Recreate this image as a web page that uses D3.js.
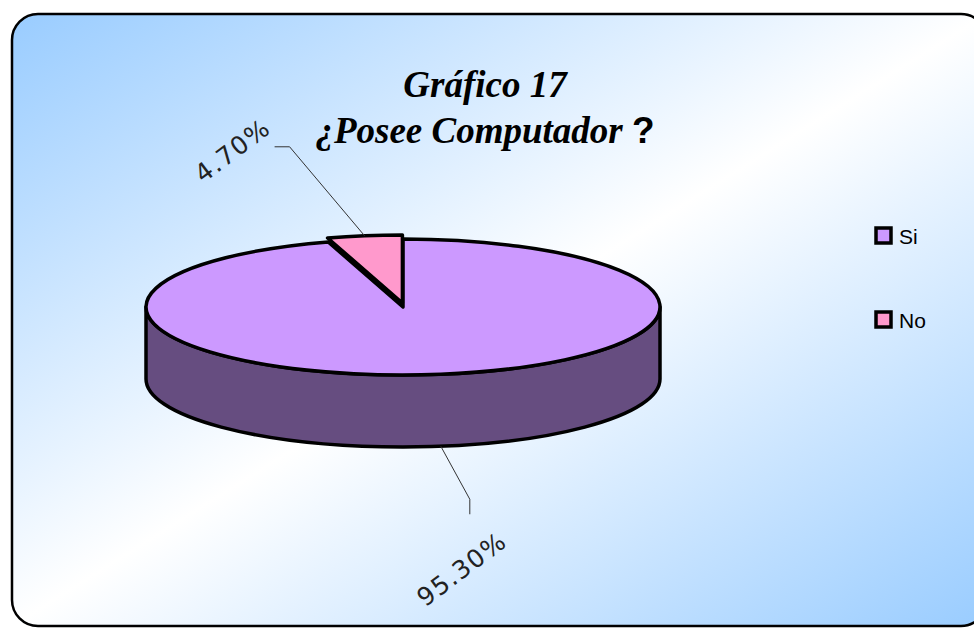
<!DOCTYPE html>
<html>
<head>
    <meta charset="utf-8">
    <script src="https://cdn.jsdelivr.net/npm/d3@7"></script>
    <style>
    body { margin: 0; background: #fff; }
    .slice { stroke: #000; stroke-width: 3.5px; stroke-linejoin: round; }
    .leader { stroke: #333; stroke-width: 1px; fill: none; }
    .pct { font-family: "DejaVu Sans", sans-serif; font-size: 25px; fill: #222; letter-spacing: 1.5px; }
    .legend text { font-family: "Liberation Sans", Arial, sans-serif; font-size: 21px; fill: #000; }
    </style>
</head>
<body>
<script>
// chart data
var categories = ["Si", "No"];
var values = [95.3, 4.7];
var labels = ["95.30%", "4.70%"];
var topColors = ["#cc99ff", "#ff99cc"];
var sideColors = ["#664d80", "#80506a"];

var width = 974, height = 628;
var cx = 403, cy = 307, rx = 257, ry = 68, depth = 72;

var svg = d3.select("body").append("svg")
    .attr("width", width)
    .attr("height", height);

// background gradient, blue in two corners and white across the middle
var grad = svg.append("defs").append("linearGradient")
    .attr("id", "bg")
    .attr("x1", 0).attr("y1", 0).attr("x2", 1).attr("y2", 1);
grad.append("stop").attr("offset", "0%").attr("stop-color", "#99ccff");
grad.append("stop").attr("offset", "50%").attr("stop-color", "#ffffff");
grad.append("stop").attr("offset", "100%").attr("stop-color", "#99ccff");

svg.append("rect")
    .attr("x", 12).attr("y", 14)
    .attr("width", 975).attr("height", 612)
    .attr("rx", 26).attr("ry", 26)
    .attr("fill", "url(#bg)")
    .attr("stroke", "#000")
    .attr("stroke-width", 2.5);

// title
var title = svg.append("text")
    .attr("text-anchor", "middle")
    .style("font-family", "'Liberation Serif', 'Times New Roman', serif")
    .style("font-weight", "bold")
    .style("font-style", "italic")
    .style("font-size", "37px");
title.append("tspan").attr("x", 485).attr("y", 97).text("Gráfico 17");
var l2 = title.append("tspan").attr("x", 485).attr("y", 143).text("¿Posee Computador ");
l2.append("tspan")
    .style("font-family", "'Liberation Sans', Arial, sans-serif")
    .style("font-style", "normal")
    .text("?");

// pie layout, starting at 12 o'clock and going clockwise
var arcs = d3.pie().sort(null).value(function(d){ return d; })(values);
var explode = [0, 4];

function pt(a, ox, oy, dy) {
    return [cx + ox + rx * Math.sin(a), cy + oy - ry * Math.cos(a) + (dy || 0)];
}

// side wall for the visible front part (between 3 and 9 o'clock)
function sidePath(d, ox, oy) {
    var a0 = Math.max(d.startAngle, Math.PI / 2);
    var a1 = Math.min(d.endAngle, 3 * Math.PI / 2);
    if (a1 <= a0) return null;
    var p0 = pt(a0, ox, oy), p1 = pt(a1, ox, oy);
    var q0 = pt(a0, ox, oy, depth), q1 = pt(a1, ox, oy, depth);
    var large = (a1 - a0) > Math.PI ? 1 : 0;
    return "M" + p0 + "A" + rx + "," + ry + " 0 " + large + " 1 " + p1 +
        "L" + q1 + "A" + rx + "," + ry + " 0 " + large + " 0 " + q0 + "Z";
}

function topPath(d, ox, oy) {
    var p0 = pt(d.startAngle, ox, oy), p1 = pt(d.endAngle, ox, oy);
    var large = (d.endAngle - d.startAngle) > Math.PI ? 1 : 0;
    return "M" + (cx + ox) + "," + (cy + oy) + "L" + p0 +
        "A" + rx + "," + ry + " 0 " + large + " 1 " + p1 + "Z";
}

function offset(d, i) {
    var m = (d.startAngle + d.endAngle) / 2;
    return [explode[i] * Math.sin(m), -explode[i] * Math.cos(m)];
}

var pie = svg.append("g");
arcs.forEach(function(d, i) {
    var o = offset(d, i);
    var s = sidePath(d, o[0], o[1]);
    if (s) pie.append("path").attr("class", "slice").attr("d", s).attr("fill", sideColors[i]);
});
arcs.forEach(function(d, i) {
    var o = offset(d, i);
    pie.append("path").attr("class", "slice").attr("d", topPath(d, o[0], o[1])).attr("fill", topColors[i]);
});

// leader lines and rotated labels
var leaderSteps = [[[29, 53], [0, 15]], [[-75, -89], [-15, 0]]];
var labelShift = [[-8, 55], [-42, 4]];
arcs.forEach(function(d, i) {
    var o = offset(d, i);
    var m = (d.startAngle + d.endAngle) / 2;
    var front = Math.cos(m) < 0;
    var p = pt(m, o[0], o[1], front ? depth : 0);
    var pts = [p];
    leaderSteps[i].forEach(function(s) {
        var last = pts[pts.length - 1];
        pts.push([last[0] + s[0], last[1] + s[1]]);
    });
    svg.append("path").attr("class", "leader").attr("d", d3.line()(pts));
    var end = pts[pts.length - 1];
    var lx = end[0] + labelShift[i][0], ly = end[1] + labelShift[i][1];
    svg.append("text")
        .attr("class", "pct")
        .attr("text-anchor", "middle")
        .attr("dominant-baseline", "central")
        .attr("transform", "translate(" + lx + "," + ly + ") rotate(-37)")
        .text(labels[i]);
});

// legend
var y = d3.scalePoint().domain(categories).range([236, 320]);
var legend = svg.append("g").attr("class", "legend");
categories.forEach(function(c, i) {
    legend.append("rect")
        .attr("x", 876).attr("y", y(c) - 8)
        .attr("width", 15).attr("height", 15)
        .attr("fill", topColors[i])
        .attr("stroke", "#000").attr("stroke-width", 3.5);
    legend.append("text")
        .attr("x", 899).attr("y", y(c) + 8)
        .text(c);
});
</script>
</body>
</html>
